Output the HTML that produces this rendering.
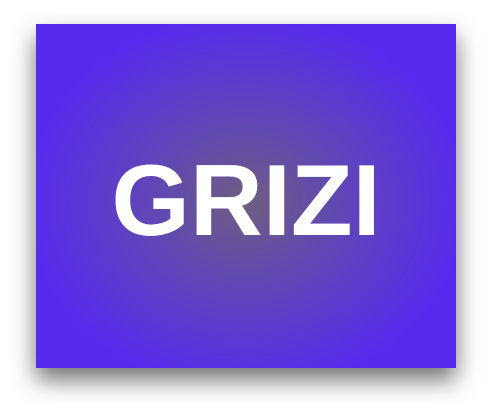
<!DOCTYPE html>
<html><head><style>
html,body{margin:0;padding:0;background:#fff;width:492px;height:416px;overflow:hidden}
#card{position:absolute;left:36px;top:24px;width:420px;height:344px;
background:radial-gradient(ellipse 220px 190px at 50% 52%,#6e5e80 0%,#6048b2 40%,#572bee 100%);
box-shadow:0 12px 22px rgba(0,0,0,0.55);}
#title{position:absolute;left:0;width:100%;top:127px;text-align:center;color:#fff;
font-family:"Liberation Sans",sans-serif;font-weight:bold;font-size:101px;line-height:100px;}
</style></head><body>
<div id="card">
<div id="title">GRIZI</div>
</div>
</body></html>
